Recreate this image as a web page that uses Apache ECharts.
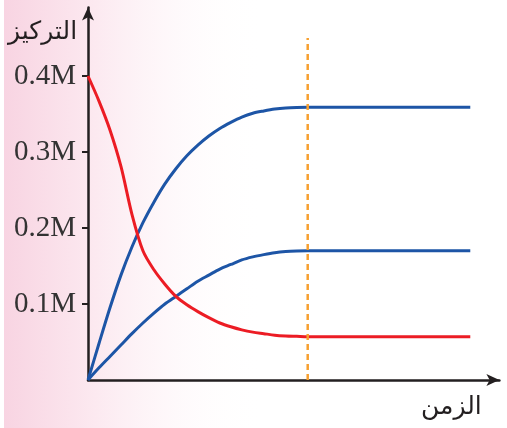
<!DOCTYPE html>
<html>
<head>
<meta charset="utf-8">
<script src="https://cdn.jsdelivr.net/npm/echarts@6/dist/echarts.min.js"></script>
<style>
  html, body { margin: 0; padding: 0; background: #fff; }
  #main { width: 507px; height: 428px; }
</style>
</head>
<body>
<div id="main"></div>
<script>
// time samples (arbitrary units, equilibrium reached at t = 20)
var times = [0, 1, 2, 3, 4, 5, 6, 7, 8, 9, 10, 11, 12, 13, 14, 15, 16, 17, 18, 19, 20, 34.8];
// concentration (M)
var reactant = [0.400, 0.367, 0.329, 0.281, 0.218, 0.170, 0.145, 0.126, 0.110, 0.099, 0.090,
  0.082, 0.075, 0.070, 0.066, 0.063, 0.061, 0.059, 0.058, 0.0575, 0.057, 0.057];
var productA = [0, 0.048, 0.095, 0.138, 0.175, 0.207, 0.234, 0.258, 0.278, 0.295, 0.309,
  0.321, 0.331, 0.339, 0.346, 0.351, 0.354, 0.3565, 0.358, 0.3587, 0.359, 0.359];
var productB = [0, 0.016, 0.031, 0.046, 0.061, 0.075, 0.088, 0.100, 0.110, 0.120, 0.130,
  0.138, 0.146, 0.152, 0.158, 0.162, 0.165, 0.1675, 0.169, 0.1697, 0.170, 0.170];
var equilibriumTime = [20, 20];
var equilibriumLine = [0, 0.45];
var yTicks = [0.1, 0.2, 0.3, 0.4];
var yLabels = ['0.1M', '0.2M', '0.3M', '0.4M'];
var yName = 'التركيز';
var xName = 'الزمن';

function pairs(xs, ys) {
  var res = [];
  for (var i = 0; i < xs.length; i++) {
    res.push([xs[i], ys[i]]);
  }
  return res;
}

var myChart = echarts.init(document.getElementById('main'));

var curveStyle = function (color) {
  return {
    type: 'line',
    smooth: 0.3,
    symbol: 'none',
    lineStyle: { color: color, width: 3 },
    z: 3
  };
};

var red = curveStyle('#ec1c24');
red.data = pairs(times, reactant);
var blueA = curveStyle('#1d55a6');
blueA.data = pairs(times, productA);
var blueB = curveStyle('#1d55a6');
blueB.data = pairs(times, productB);

myChart.setOption({
  backgroundColor: '#fff',
  animation: false,
  graphic: [
    {
      type: 'rect',
      z: -10,
      shape: { x: 4, y: 0, width: 260, height: 428 },
      style: {
        fill: new echarts.graphic.LinearGradient(0, 0, 1, 0, [
          { offset: 0, color: '#f8d4e2' },
          { offset: 0.35, color: '#fce9f0' },
          { offset: 1, color: 'rgba(255,255,255,0)' }
        ])
      },
      silent: true
    },
    {
      type: 'text',
      left: 8,
      top: 20,
      style: {
        text: yName,
        font: '25px "DejaVu Sans"',
        fill: '#231f20'
      }
    },
    {
      type: 'text',
      left: 421,
      top: 395,
      style: {
        text: xName,
        font: '25px "DejaVu Sans"',
        fill: '#231f20'
      }
    }
  ],
  grid: { left: 88, right: 7.6, top: 7.6, bottom: 48, containLabel: false },
  xAxis: {
    type: 'value',
    min: 0,
    max: 37.45,
    axisLine: {
      show: true,
      symbol: ['none', 'arrow'],
      symbolSize: [9, 13],
      lineStyle: { color: '#231f20', width: 2.5 }
    },
    axisTick: { show: false },
    axisLabel: { show: false },
    splitLine: { show: false }
  },
  yAxis: {
    type: 'value',
    min: 0,
    max: 0.49,
    axisLine: {
      show: true,
      symbol: ['none', 'arrow'],
      symbolSize: [9, 13],
      lineStyle: { color: '#231f20', width: 2.5 }
    },
    axisTick: {
      show: true,
      length: 6,
      customValues: yTicks,
      lineStyle: { color: '#231f20', width: 2 }
    },
    axisLabel: {
      show: true,
      customValues: yTicks,
      margin: 12,
      fontFamily: '"Liberation Serif", "DejaVu Serif", serif',
      fontSize: 29,
      color: '#333',
      formatter: function (v) {
        var i = yTicks.indexOf(v);
        return i >= 0 ? yLabels[i] : '';
      }
    },
    splitLine: { show: false }
  },
  series: [
    blueA,
    blueB,
    red,
    {
      type: 'line',
      symbol: 'none',
      data: pairs(equilibriumTime, equilibriumLine),
      lineStyle: { color: '#f7a030', width: 2.5, type: [6, 4] },
      z: 4
    }
  ]
});
</script>
</body>
</html>
